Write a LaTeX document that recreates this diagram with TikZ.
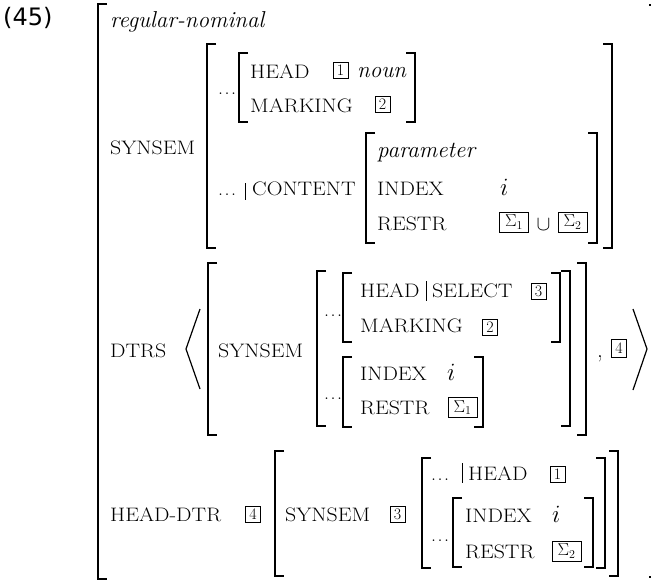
\documentclass[tikz,border=0pt]{standalone}
\usepackage{fontspec}
\usepackage{graphicx}
\newfontfamily\exnumfont{DejaVu Sans}

% feature names in (widened) capitals, types in italics
\newcommand\feat[1]{\scalebox{1.12}[1]{\fontsize{19.5}{22}\selectfont #1}}
\newcommand\dotsx{{\fontsize{20}{22}\selectfont .\kern1.5pt.\kern1.5pt.}}

\tikzset{
  fname/.style={anchor=base west, inner sep=0pt},
  ftype/.style={anchor=base west, inner sep=0pt, font=\fontsize{23}{26}\selectfont\itshape},
  fval/.style={anchor=base west, inner sep=0pt, font=\fontsize{23}{26}\selectfont},
  avmtag/.style={draw, line width=0.7pt, inner sep=0pt, minimum width=15pt,
                 minimum height=16pt, font=\fontsize{16}{16}\selectfont},
  settag/.style={avmtag, minimum width=29pt, minimum height=20pt, font=\fontsize{17}{17}\selectfont},
  brk/.style={line width=1.4pt, line cap=butt, line join=miter},
  pathbar/.style={line width=0.8pt},
}
% square brackets: x, top, bottom
\newcommand\lbrk[3]{\draw[brk] (#1+9,#2) -- (#1,#2) -- (#1,#3) -- (#1+9,#3);}
\newcommand\rbrk[3]{\draw[brk] (#1-9,#2) -- (#1,#2) -- (#1,#3) -- (#1-9,#3);}

\begin{document}
\begin{tikzpicture}[x=1pt, y=-1pt]
\useasboundingbox (0,0) rectangle (651,581);
\clip (0,0) rectangle (651,581);

% example number
\node[anchor=base west, inner sep=0pt, font=\exnumfont\fontsize{24}{26}\selectfont] (exno) at (3,25) {(45)};

% outermost matrix
\lbrk{98}{4}{579}
\rbrk{658}{5}{577}
\node[ftype] (rn) at (110,27) {regular-nominal};

% ---- SYNSEM of the mother
\node[fname] (ss1) at (110,154) {\feat{SYNSEM}};
\lbrk{207}{44}{248}
\rbrk{612}{44}{248}

\node[fname] (d1) at (218,94) {\dotsx};
\lbrk{239}{53}{122}
\rbrk{415}{53}{122}
\node[fname] (hd1) at (250,78) {\feat{HEAD}};
\node[avmtag] (t1a) at (340.5,70) {1};
\node[ftype] (noun) at (357,77) {noun};
\node[fname] (mk1) at (250,112) {\feat{MARKING}};
\node[avmtag] (t2a) at (382.5,104.5) {2};

\node[fname] (d2) at (218,195) {\dotsx};
\draw[pathbar] (245,183) -- (245,200);
\node[fname] (ct1) at (252,195) {\feat{CONTENT}};
\lbrk{366}{133}{243}
\rbrk{597}{133}{243}
\node[ftype] (par) at (377,157) {parameter};
\node[fname] (ix1) at (377,195) {\feat{INDEX}};
\node[fval] (i1) at (500,195) {$i$};
\node[fname] (rs1) at (377,230) {\feat{RESTR}};
\node[settag] (s1a) at (514,222) {$\Sigma_1$};
\node[anchor=base, inner sep=0pt, font=\fontsize{21}{24}\selectfont] (cup) at (543.5,230) {$\cup$};
\node[settag] (s2a) at (572.5,222) {$\Sigma_2$};

% ---- DTRS list
\node[fname] (dtrs) at (110,357) {\feat{DTRS}};
\draw[line width=1.2pt] (200,309) -- (186,349) -- (200,389);
\draw[line width=1.2pt] (633,309) -- (647,349) -- (633,390);
\lbrk{208}{263}{435}
\rbrk{586}{263}{435}
\node[fname] (ss2) at (218,357) {\feat{SYNSEM}};
\lbrk{317}{271}{426}
\rbrk{570}{271}{426}

\node[fname] (d3) at (324,316) {\dotsx};
\lbrk{343}{273}{342}
\rbrk{560}{273}{342}
\node[fname] (hd2) at (360,297) {\feat{HEAD}};
\draw[pathbar] (426,281) -- (426,301);
\node[fname] (sel) at (432,297) {\feat{SELECT}};
\node[avmtag] (t3a) at (538.5,291.5) {3};
\node[fname] (mk2) at (360,332) {\feat{MARKING}};
\node[avmtag] (t2b) at (490,327) {2};

\node[fname] (d4) at (324,399) {\dotsx};
\lbrk{343}{357}{427}
\rbrk{483}{357}{427}
\node[fname] (ix2) at (360,380) {\feat{INDEX}};
\node[fval] (i2) at (447,380) {$i$};
\node[fname] (rs2) at (360,414) {\feat{RESTR}};
\node[settag] (s1b) at (462.5,407.5) {$\Sigma_1$};

\node[fval] (comma) at (597,357) {,};
\node[avmtag, minimum height=18pt] (t4a) at (619,348) {4};

% ---- HEAD-DTR
\node[fname] (hdtr) at (110,521) {\feat{HEAD-DTR}};
\node[avmtag] (t4b) at (253,514) {4};
\lbrk{275}{451}{576}
\rbrk{618}{451}{576}
\node[fname] (ss3) at (285,521) {\feat{SYNSEM}};
\node[avmtag] (t3b) at (397.5,514.5) {3};
\lbrk{422}{458}{568}
\rbrk{605}{458}{568}

\node[fname] (d5) at (431,480) {\dotsx};
\draw[pathbar] (462,463) -- (462,483);
\node[fname] (hd3) at (468,480) {\feat{HEAD}};
\node[avmtag] (t1b) at (557.5,474.5) {1};

\node[fname] (d6) at (431,541) {\dotsx};
\lbrk{453}{498}{567}
\rbrk{593}{498}{567}
\node[fname] (ix3) at (465,522) {\feat{INDEX}};
\node[fval] (i3) at (552,522) {$i$};
\node[fname] (rs3) at (465,558) {\feat{RESTR}};
\node[settag] (s2b) at (566.5,551) {$\Sigma_2$};
\end{tikzpicture}
\end{document}
